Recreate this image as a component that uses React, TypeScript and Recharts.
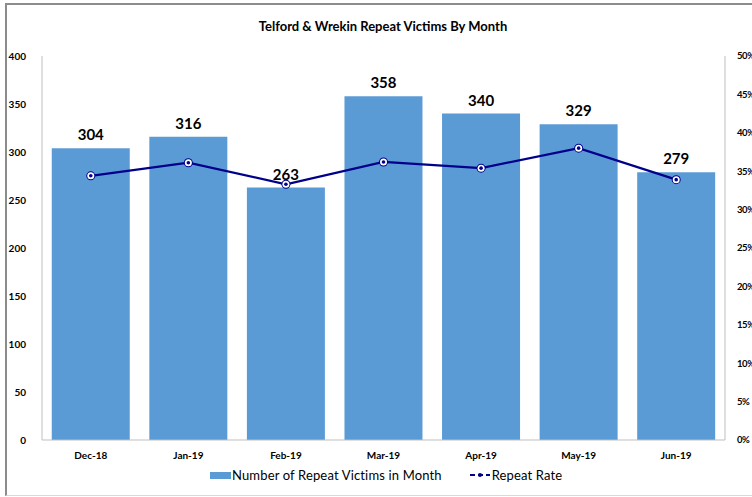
import React from 'react'
import { ComposedChart, Bar, Line, XAxis, YAxis, LabelList } from 'recharts'

const months = ['Dec-18', 'Jan-19', 'Feb-19', 'Mar-19', 'Apr-19', 'May-19', 'Jun-19']
const repeatVictims = [304, 316, 263, 358, 340, 329, 279]
const repeatRate = [34.4, 36.1, 33.3, 36.2, 35.4, 38.0, 33.9]
const countTicks = [0, 50, 100, 150, 200, 250, 300, 350, 400]
const rateTicks = [0, 5, 10, 15, 20, 25, 30, 35, 40, 45, 50]

const data = months.map((month, i) => ({
  month,
  victims: repeatVictims[i],
  rate: repeatRate[i],
}))

const FONT = 'Lato, "Open Sans", sans-serif'
const BAR = '#5B9BD5'
const NAVY = '#00008B'
const AXIS = '#bfbfbf'

function RateDot(props: any) {
  const { cx, cy } = props
  if (cx == null || cy == null) return null
  return (
    <g>
      <circle cx={cx} cy={cy} r={4.5} fill={NAVY} />
      <circle cx={cx} cy={cy} r={3.5} fill="#ffffff" />
      <circle cx={cx} cy={cy} r={1.8} fill={NAVY} />
    </g>
  )
}

const tickStyle = { fontSize: 10, fontWeight: 700, fill: '#000000', fontFamily: FONT }

export default function App() {
  return (
    <div style={{ position: 'absolute', left: 0, top: 0, width: 752, height: 497, background: '#ffffff', fontFamily: FONT, overflow: 'hidden' }}>
      <div style={{ position: 'absolute', left: 5, top: 3, width: 760, height: 490, borderTop: '2px solid #8c8c8c', borderLeft: '2px solid #8c8c8c', borderBottom: '1px solid #d9d9d9' }} />
      <div style={{ position: 'absolute', left: 0, top: 18, width: 766, textAlign: 'center', fontSize: 13, fontWeight: 700, color: '#000' }}>
        Telford &amp; Wrekin Repeat Victims By Month
      </div>
      <div style={{ position: 'absolute', left: 0, top: 0 }}>
        <ComposedChart width={752} height={497} data={data} margin={{ top: 56, right: 0, left: 0, bottom: 35 }} barCategoryGap="10%">
          <XAxis dataKey="month" axisLine={{ stroke: AXIS }} tickLine={false} height={22} tick={tickStyle} dy={4} />
          <YAxis yAxisId="left" domain={[0, 400]} ticks={countTicks} width={42} axisLine={{ stroke: AXIS }} tickLine={false} tick={tickStyle} tickMargin={10} />
          <YAxis yAxisId="right" orientation="right" domain={[0, 50]} ticks={rateTicks} width={27} axisLine={{ stroke: AXIS }} tickLine={false} tick={{ ...tickStyle, fontSize: 9.5, letterSpacing: -0.4, textAnchor: 'start' }} tickMargin={6} tickFormatter={(v: number) => `${v}%`} />
          <Bar yAxisId="left" dataKey="victims" fill={BAR} isAnimationActive={false}>
            <LabelList dataKey="victims" position="top" offset={8} style={{ fontSize: 15, fontWeight: 700, fill: '#000', fontFamily: FONT }} />
          </Bar>
          <Line yAxisId="right" dataKey="rate" stroke={NAVY} strokeWidth={2.25} dot={<RateDot />} activeDot={false} isAnimationActive={false} />
        </ComposedChart>
      </div>
      <div style={{ position: 'absolute', left: 210, top: 467, display: 'flex', alignItems: 'center', fontSize: 13, color: '#000', whiteSpace: 'nowrap' }}>
        <span style={{ display: 'inline-block', width: 21, height: 7, background: BAR, marginRight: 1 }} />
        <span style={{ letterSpacing: 0.15 }}>Number of Repeat Victims in Month</span>
        <svg width={22} height={10} style={{ marginLeft: 27, marginRight: 1 }}>
          <line x1={1} y1={5} x2={21} y2={5} stroke={NAVY} strokeWidth={2} strokeDasharray="5 3" />
          <circle cx={11} cy={5} r={2} fill={NAVY} />
        </svg>
        <span style={{ letterSpacing: 0.15 }}>Repeat Rate</span>
      </div>
    </div>
  )
}
